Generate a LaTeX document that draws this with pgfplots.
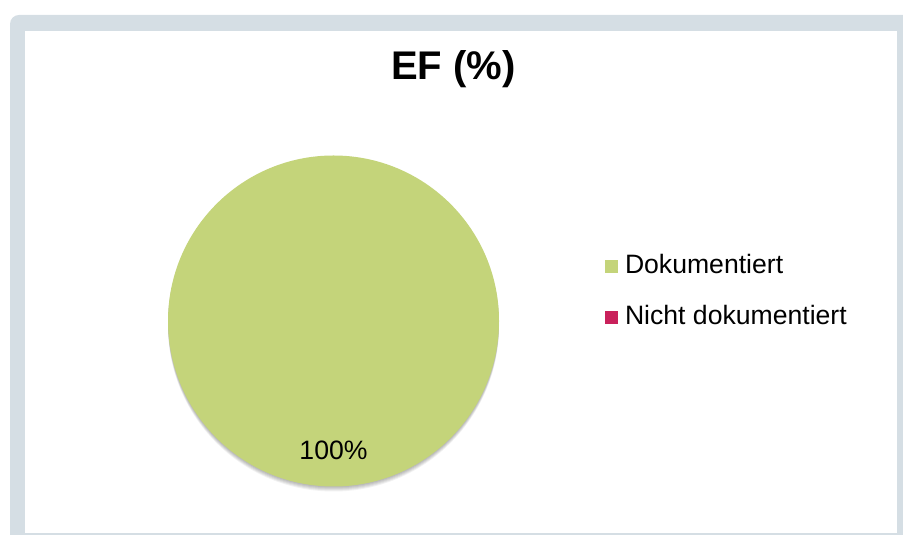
\documentclass[border=0pt]{standalone}
\usepackage{pgfplots}
\pgfplotsset{compat=1.18}
\usepackage{pgfplotstable}
\usepackage{fontspec}
\setmainfont{Liberation Sans}
\definecolor{framecol}{HTML}{D5DEE4}
\definecolor{dok}{HTML}{C4D47A}
\definecolor{nicht}{HTML}{C9215B}
\pgfplotstableread[col sep=comma]{
Label,Value
Dokumentiert,100
Nicht dokumentiert,0
}\piedata
\begin{document}
\begin{tikzpicture}[x=1pt,y=1pt]
\useasboundingbox (0,0) rectangle (903,535);
\begin{scope}
\clip (0,0) rectangle (903,535);
\fill[framecol, rounded corners=9pt] (10,520) rectangle (940,-30);
\fill[white] (25,504) rectangle (897,2);
\end{scope}
\pgfplotstablegetelem{0}{Value}\of\piedata \let\va\pgfplotsretval
\pgfplotstablegetelem{1}{Value}\of\piedata \let\vb\pgfplotsretval
\pgfmathsetmacro{\tot}{\va+\vb}
\pgfmathsetmacro{\fA}{\va/\tot}
\pgfmathsetmacro{\fB}{\vb/\tot}
\pgfmathsetmacro{\aA}{360*\fA}
\pgfmathsetmacro{\aB}{360*\fB}
\pgfmathsetmacro{\pA}{100*\fA}
\begin{axis}[at={(0,0)}, anchor=south west, scale only axis,
  width=903pt, height=535pt, xmin=0, xmax=903, ymin=0, ymax=535,
  hide axis, clip=false,
  /pgf/number format/assume math mode=true,
  legend image code/.code={\fill[#1, draw=none] (0pt,-6pt) rectangle (13pt,7pt);},
  legend style={draw=none, fill=none, inner sep=0pt, outer sep=0pt,
    at={(605/903,242/535)}, anchor=west, row sep=26pt, column sep=7pt,
    font=\fontsize{26.6}{30}\selectfont,
    nodes={inner sep=0pt, text height=19pt, text depth=6pt}},
  legend cell align=left]
\addlegendimage{fill=dok, draw=none}
\addlegendentry{Dokumentiert}
\addlegendimage{fill=nicht, draw=none}
\addlegendentry{Nicht dokumentiert}
% shadow
\fill[black, opacity=0.06] (axis cs:333.5,213) circle[radius=165.5pt];
\fill[black, opacity=0.06] (axis cs:333.5,212) circle[radius=165.5pt];
\fill[black, opacity=0.06] (axis cs:333.5,211) circle[radius=165.5pt];
\fill[black, opacity=0.06] (axis cs:333.5,210) circle[radius=165.5pt];
\fill[black, opacity=0.05] (axis cs:333.5,209) circle[radius=165.5pt];
% slices
\fill[dok] (axis cs:333.5,214) -- ++(90:165.5pt) arc[start angle=90, end angle={90-\aA}, radius=165.5pt] -- cycle;
\ifdim\aB pt>0pt
\fill[nicht] (axis cs:333.5,214) -- ++({90-\aA}:165.5pt) arc[start angle={90-\aA}, end angle={90-\aA-\aB}, radius=165.5pt] -- cycle;
\fi
\node[font=\fontsize{26.6}{30}\selectfont] at (axis cs:333.5,{214+0.78*165.5*sin(90-\aA/2)}) {\pgfmathprintnumber[fixed,precision=0,assume math mode=true]{\pA}\%};
\node[font=\fontsize{40}{45}\selectfont\bfseries] at (axis cs:453.5,466) {EF (\%)};
\end{axis}
\end{tikzpicture}
\end{document}
